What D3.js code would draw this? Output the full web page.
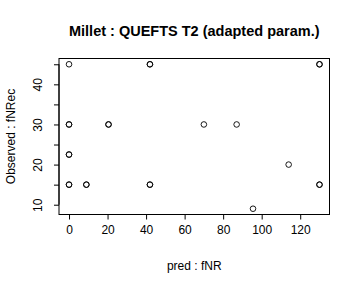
<!DOCTYPE html>
<html><head><meta charset="utf-8">
<script src="https://cdn.jsdelivr.net/npm/d3@7"></script>
<style>
html,body{margin:0;padding:0;background:#fff;}
svg text{font-family:"Liberation Sans",Arial,Helvetica,sans-serif;fill:#000;}
</style></head>
<body><svg id="c" width="360" height="288"></svg>
<script>
// Data (duplicated pairs = overlapping observations, drawn heavier)
const predX = [0, 0, 0, 0, 0, 0, 0, 9, 9, 20.5, 20.5, 42, 42, 42, 42, 70, 87, 95.5, 114, 130, 130, 130, 130];
const obsY  = [45, 30, 30, 22.5, 22.5, 15, 15, 15, 15, 30, 30, 45, 45, 15, 15, 30, 30, 9, 20, 45, 45, 15, 15];
const xTicks = [0, 20, 40, 60, 80, 100, 120];
const yTicks = [10, 15, 20, 25, 30, 35, 40, 45];
const yLabels = [10, 20, 30, 40];
const title = "Millet : QUEFTS T2 (adapted param.)";
const xTitle = "pred : fNR";
const yTitle = "Observed : fNRec";

const svg = d3.select("#c");
const L = 59, R = 329.5, T = 58.5, B = 214.5;
const xmin = d3.min(predX), xmax = d3.max(predX), ymin = d3.min(obsY), ymax = d3.max(obsY);
const xpad = (xmax - xmin) * 0.04, ypad = (ymax - ymin) * 0.04;
const x = d3.scaleLinear().domain([xmin - xpad, xmax + xpad]).range([L, R]);
const y = d3.scaleLinear().domain([ymin - ypad, ymax + ypad]).range([B, T]);

// box
svg.append("rect").attr("x", L).attr("y", T).attr("width", R - L).attr("height", B - T)
  .attr("fill", "none").attr("stroke", "#000").attr("stroke-width", 1);

// x axis
const xa = svg.append("g").attr("transform", `translate(0,${B})`)
  .call(d3.axisBottom(x).tickValues(xTicks).tickSize(5).tickPadding(6).tickFormat(d3.format("d")));
xa.select(".domain").attr("d", `M${x(xTicks[0])},0H${x(xTicks[xTicks.length-1])}`);
xa.selectAll("text").attr("font-size", 12).style("font-family", "Liberation Sans, Arial, sans-serif");

// y axis
const ya = svg.append("g").attr("transform", `translate(${L},0)`)
  .call(d3.axisLeft(y).tickValues(yTicks).tickSize(5).tickFormat(d => yLabels.includes(d) ? d : ""));
ya.select(".domain").attr("d", `M0,${y(yTicks[0])}V${y(yTicks[yTicks.length-1])}`);
ya.selectAll(".tick text").attr("font-size", 12).attr("text-anchor", "middle")
  .attr("x", null).attr("dy", null)
  .attr("transform", "translate(-17,0) rotate(-90)")
  .style("font-family", "Liberation Sans, Arial, sans-serif");

// points
svg.append("g").selectAll("circle").data(predX.map((d, i) => [d, obsY[i]])).join("circle")
  .attr("cx", d => x(d[0])).attr("cy", d => y(d[1])).attr("r", 2.8)
  .attr("fill", "none").attr("stroke", "#000").attr("stroke-width", 0.9);

// titles
svg.append("text").attr("x", (L + R) / 2).attr("y", 36).attr("text-anchor", "middle")
  .attr("font-size", 14.5).attr("font-weight", "bold").text(title);
svg.append("text").attr("x", (L + R) / 2).attr("y", 270).attr("text-anchor", "middle")
  .attr("font-size", 12).text(xTitle);
svg.append("text").attr("transform", `translate(15,${(T + B) / 2}) rotate(-90)`).attr("text-anchor", "middle")
  .attr("font-size", 12).text(yTitle);
</script></body></html>
